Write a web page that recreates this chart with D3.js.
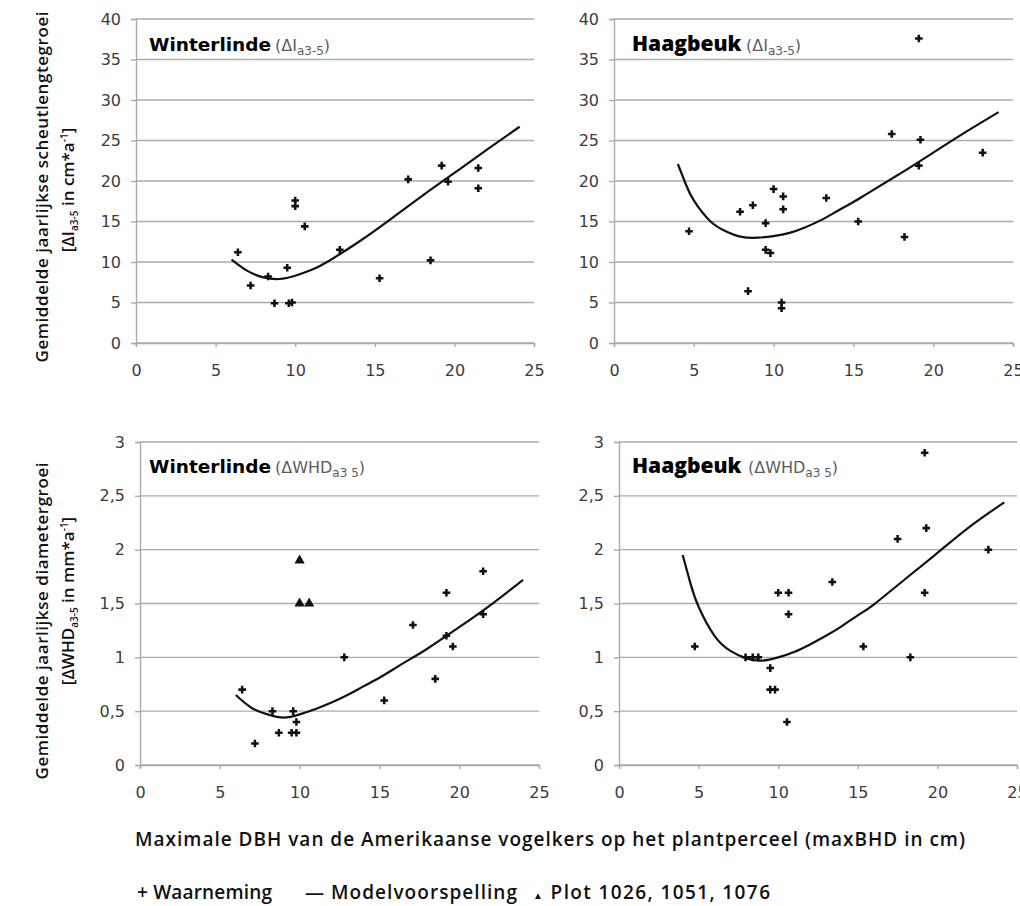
<!DOCTYPE html>
<html>
<head>
<meta charset="utf-8">
<script src="https://cdn.jsdelivr.net/npm/d3@7/dist/d3.min.js"></script>
<style>
  html, body { margin: 0; padding: 0; background: #fff; }
  svg { display: block; }
</style>
</head>
<body>
<svg id="chart" width="1020" height="906"></svg>
<script>
// ---------- DATA ----------
const xTicks = [0, 5, 10, 15, 20, 25];
const lengthTicks = [0, 5, 10, 15, 20, 25, 30, 35, 40];
const diamTicks = [0, 0.5, 1, 1.5, 2, 2.5, 3];

// Winterlinde – shoot length growth (cm/a)
const wlLengthObs = [
  [6.4, 11.2], [7.2, 7.1], [8.3, 8.2], [8.7, 4.9], [9.5, 9.3], [9.6, 4.9],
  [9.8, 5.0], [10.0, 17.6], [10.0, 16.9], [10.6, 14.4], [12.8, 11.5],
  [15.3, 8.0], [17.1, 20.2], [18.5, 10.2], [19.2, 21.9], [19.6, 19.9],
  [21.5, 21.6], [21.5, 19.1]
];
const wlLengthModel = [
  [6, 10.3], [7, 8.9], [8, 8.1], [9, 7.9], [10, 8.3], [11, 9.0], [12, 10.0],
  [14, 12.5], [16, 15.3], [18, 18.2], [20, 21.0], [22, 23.8], [24.1, 26.7]
];

// Haagbeuk – shoot length growth (cm/a)
const hbLengthObs = [
  [4.7, 13.8], [7.9, 16.2], [8.4, 6.4], [8.7, 17.0], [9.5, 14.8], [9.5, 11.5],
  [9.8, 11.1], [10.0, 19.0], [10.6, 18.1], [10.6, 16.5], [10.5, 5.0],
  [10.5, 4.3], [13.3, 17.9], [15.3, 15.0], [17.4, 25.8], [18.2, 13.1],
  [19.1, 37.6], [19.2, 25.1], [19.1, 21.9], [23.1, 23.5]
];
const hbLengthModel = [
  [4.0, 22.1], [4.5, 19.6], [5, 17.6], [6, 15.1], [7, 13.8], [8, 13.1],
  [9, 13.0], [10, 13.2], [11, 13.6], [12, 14.3], [13, 15.2], [14, 16.3],
  [15, 17.4], [16, 18.6], [18, 21.0], [20, 23.5], [22, 26.0], [24.1, 28.5]
];

// Winterlinde – diameter growth (mm/a)
const wlDiamObs = [
  [6.4, 0.7], [7.2, 0.2], [8.3, 0.5], [8.7, 0.3], [9.5, 0.3], [9.8, 0.3],
  [9.6, 0.5], [9.8, 0.4], [12.8, 1.0], [15.3, 0.6], [17.1, 1.3], [18.5, 0.8],
  [19.2, 1.6], [19.2, 1.2], [19.6, 1.1], [21.5, 1.8], [21.5, 1.4]
];
const wlDiamPlots = [[10.0, 1.9], [10.0, 1.5], [10.6, 1.5]];
const wlDiamModel = [
  [6, 0.65], [7, 0.53], [8, 0.47], [9, 0.44], [10, 0.47], [11, 0.52],
  [12, 0.58], [13, 0.65], [14, 0.73], [15, 0.81], [16, 0.90], [17, 0.99],
  [18, 1.08], [20, 1.28], [22, 1.49], [24, 1.72]
];

// Haagbeuk – diameter growth (mm/a)
const hbDiamObs = [
  [4.76, 1.1], [7.95, 1.0], [8.4, 1.0], [8.75, 1.0], [9.5, 0.9], [9.5, 0.7],
  [9.8, 0.7], [10.0, 1.6], [10.65, 1.6], [10.65, 1.4], [10.55, 0.4],
  [13.4, 1.7], [15.35, 1.1], [17.5, 2.1], [18.3, 1.0], [19.2, 2.9],
  [19.3, 2.2], [19.2, 1.6], [23.2, 2.0]
];
const hbDiamModel = [
  [4.0, 1.95], [4.5, 1.68], [5, 1.47], [6, 1.20], [7, 1.06], [8, 0.99],
  [9, 0.97], [10, 1.00], [11, 1.05], [12, 1.12], [13, 1.20], [14, 1.29],
  [15, 1.39], [16, 1.49], [18, 1.73], [20, 1.97], [22, 2.21], [24.2, 2.44]
];

// ---------- DRAW ----------
const svg = d3.select("#chart");
const gridColor = "#ababab";
const tickTextColor = "#3c3c3c";
const tickFont = "'DejaVu Sans', sans-serif";
const fmt = d => String(d).replace(".", ",");

const panels = [
  { x0: 136, x1: 534, yTop: 19, yBot: 343, yMax: 40, yTicks: lengthTicks,
    obs: wlLengthObs, plots: [], model: wlLengthModel,
    title: "Winterlinde", titleFont: "'DejaVu Sans', sans-serif", titleSize: 18.5, titleWeight: 700,
    tx: 149, ty: 51, gx: 275, gMain: "(ΔI", gSub: "a3-5" },
  { x0: 614, x1: 1013, yTop: 19, yBot: 343, yMax: 40, yTicks: lengthTicks,
    obs: hbLengthObs, plots: [], model: hbLengthModel,
    title: "Haagbeuk", titleFont: "'Open Sans', sans-serif", titleSize: 21, titleWeight: 800,
    tx: 632, ty: 51, gx: 746, gMain: "(ΔI", gSub: "a3-5" },
  { x0: 140, x1: 539, yTop: 442, yBot: 765, yMax: 3, yTicks: diamTicks,
    obs: wlDiamObs, plots: wlDiamPlots, model: wlDiamModel,
    title: "Winterlinde", titleFont: "'DejaVu Sans', sans-serif", titleSize: 18.5, titleWeight: 700,
    tx: 149, ty: 473, gx: 275, gMain: "(ΔWHD", gSub: "a3 5" },
  { x0: 619, x1: 1017, yTop: 442, yBot: 765, yMax: 3, yTicks: diamTicks,
    obs: hbDiamObs, plots: [], model: hbDiamModel,
    title: "Haagbeuk", titleFont: "'Open Sans', sans-serif", titleSize: 21, titleWeight: 800,
    tx: 632, ty: 473, gx: 748, gMain: "(ΔWHD", gSub: "a3 5" }
];

panels.forEach(p => {
  const x = d3.scaleLinear().domain([0, 25]).range([p.x0, p.x1]);
  const y = d3.scaleLinear().domain([0, p.yMax]).range([p.yBot, p.yTop]);
  const g = svg.append("g");

  // gridlines
  g.append("g").selectAll("line").data(p.yTicks).join("line")
    .attr("x1", p.x0).attr("x2", p.x1)
    .attr("y1", d => y(d)).attr("y2", d => y(d))
    .attr("stroke", gridColor).attr("stroke-width", 1.4);

  // y axis
  const ya = g.append("g").attr("transform", `translate(${p.x0},0)`)
    .call(d3.axisLeft(y).tickValues(p.yTicks).tickSize(5).tickPadding(10).tickFormat(fmt));
  ya.select(".domain").attr("stroke", gridColor).attr("stroke-width", 1.4);
  ya.selectAll(".tick line").attr("stroke", gridColor).attr("stroke-width", 1.4);
  ya.selectAll(".tick text").attr("fill", tickTextColor)
    .style("font-family", tickFont).style("font-size", "16px");

  // x axis
  const xa = g.append("g").attr("transform", `translate(0,${p.yBot})`)
    .call(d3.axisBottom(x).tickValues(xTicks).tickSize(4).tickPadding(18).tickFormat(d3.format("d")));
  xa.select(".domain").attr("stroke", gridColor).attr("stroke-width", 1.4);
  xa.selectAll(".tick line").attr("stroke", gridColor).attr("stroke-width", 1.4);
  xa.selectAll(".tick text").attr("fill", tickTextColor)
    .style("font-family", tickFont).style("font-size", "16px");

  // model curve
  const line = d3.line().x(d => x(d[0])).y(d => y(d[1])).curve(d3.curveNatural);
  g.append("path").datum(p.model).attr("d", line)
    .attr("fill", "none").attr("stroke", "#111").attr("stroke-width", 2.2);

  // observations (+)
  const cross = d3.symbol().type(d3.symbolCross).size(32);
  g.append("g").selectAll("path").data(p.obs).join("path")
    .attr("transform", d => `translate(${x(d[0])},${y(d[1])})`)
    .attr("d", cross).attr("fill", "#111");

  // plot triangles
  const tri = d3.symbol().type(d3.symbolTriangle).size(46);
  g.append("g").selectAll("path").data(p.plots).join("path")
    .attr("transform", d => `translate(${x(d[0])},${y(d[1])})`)
    .attr("d", tri).attr("fill", "#111");

  // title
  g.append("text").attr("x", p.tx).attr("y", p.ty)
    .style("font-family", p.titleFont).style("font-size", p.titleSize + "px")
    .style("font-weight", p.titleWeight).attr("fill", "#000").text(p.title);
  const gt = g.append("text").attr("x", p.gx).attr("y", p.ty)
    .style("font-family", tickFont).style("font-size", "16px")
    .attr("fill", "#5c5c5c");
  gt.append("tspan").text(p.gMain);
  gt.append("tspan").attr("dy", 4).style("font-size", "12px").text(p.gSub);
  gt.append("tspan").attr("dy", -4).text(")");
});

// ---------- AXIS TITLES ----------
const labFont = "'Open Sans', Lato, sans-serif";

function yLabel(cx, cy, len, build) {
  const t = svg.append("text").attr("transform", `translate(${cx},${cy}) rotate(-90)`)
    .attr("text-anchor", "middle").style("font-family", labFont)
    .style("font-size", "17px").style("font-weight", 600).attr("fill", "#111");
  if (len) t.attr("textLength", len).attr("lengthAdjust", "spacing");
  build(t);
}

yLabel(48, 187, 351, t => t.text("Gemiddelde jaarlijkse scheutlengtegroei"));
yLabel(74, 190, null, t => {
  t.append("tspan").text("[ΔI");
  t.append("tspan").attr("dy", 4).style("font-size", "10px").text("a3-5");
  t.append("tspan").attr("dy", -4).text(" in cm*a");
  t.append("tspan").attr("dy", -6).style("font-size", "10px").text("-1");
  t.append("tspan").attr("dy", 6).text("]");
});
yLabel(48, 621, 317, t => t.text("Gemiddelde jaarlijkse diametergroei"));
yLabel(74, 601, null, t => {
  t.append("tspan").text("[ΔWHD");
  t.append("tspan").attr("dy", 4).style("font-size", "10px").text("a3-5");
  t.append("tspan").attr("dy", -4).text(" in mm*a");
  t.append("tspan").attr("dy", -6).style("font-size", "10px").text("-1");
  t.append("tspan").attr("dy", 6).text("]");
});

svg.append("text").attr("x", 135).attr("y", 846)
  .style("font-family", labFont).style("font-size", "19px").style("font-weight", 600)
  .attr("fill", "#111").attr("textLength", 830).attr("lengthAdjust", "spacing")
  .text("Maximale DBH van de Amerikaanse vogelkers op het plantperceel (maxBHD in cm)");

// ---------- LEGEND ----------
const legend = [
  { x: 137, len: 135, sym: "+", symSize: 19, label: "Waarneming" },
  { x: 305, len: 212, sym: "—", symSize: 19, label: "Modelvoorspelling" },
  { x: 533, len: 237, sym: "▲", symSize: 10, label: "Plot 1026, 1051, 1076" }
];
legend.forEach(l => {
  const t = svg.append("text").attr("x", l.x).attr("y", 899)
    .style("font-family", labFont).style("font-size", "19px").style("font-weight", 600)
    .attr("fill", "#111").attr("textLength", l.len).attr("lengthAdjust", "spacing");
  t.append("tspan").style("font-size", l.symSize + "px").text(l.sym);
  t.append("tspan").text(" " + l.label);
});
</script>
</body>
</html>
